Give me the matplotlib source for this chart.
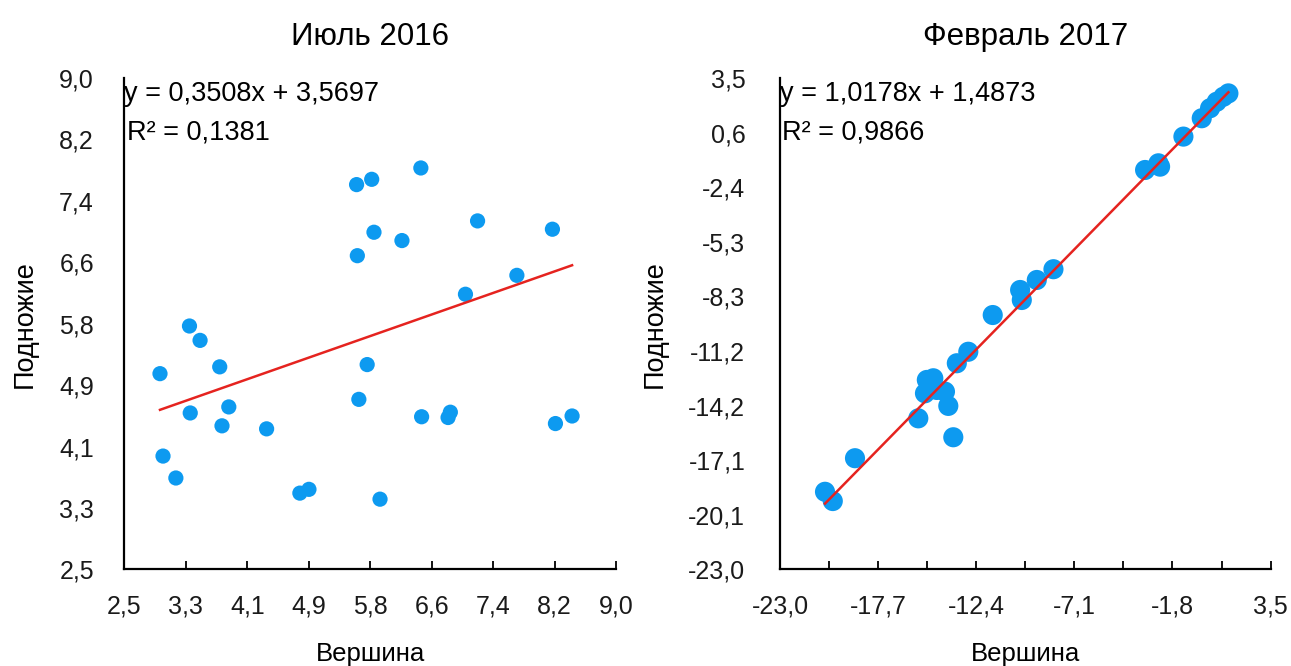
import numpy as np
import matplotlib
matplotlib.use("Agg")
import matplotlib.pyplot as plt

plt.rcParams['font.family'] = ['Liberation Sans', 'DejaVu Sans']

# ---- data: July 2016 ----
jul_x = [5.57, 5.77, 6.42, 5.80, 6.17, 5.58, 7.17, 8.16, 7.69, 7.01,
         3.36, 3.50, 2.97, 3.76, 5.71, 5.60, 3.37, 3.88, 3.79, 4.38,
         6.43, 6.81, 6.78, 8.20, 8.42, 3.01, 3.18, 4.82, 4.94, 5.88]
jul_y = [7.59, 7.66, 7.81, 6.96, 6.85, 6.65, 7.11, 7.00, 6.39, 6.14,
         5.72, 5.53, 5.09, 5.18, 5.21, 4.75, 4.57, 4.65, 4.40, 4.36,
         4.52, 4.58, 4.51, 4.43, 4.53, 4.00, 3.71, 3.51, 3.56, 3.43]
jul_slope, jul_intercept = 0.3508, 3.5697
jul_eq = "y = 0,3508x + 3,5697"
jul_r2 = "R² = 0,1381"
jul_ticks = [2.5, 3.3125, 4.125, 4.9375, 5.75, 6.5625, 7.375, 8.1875, 9.0]
jul_ticklabels = ["2,5", "3,3", "4,1", "4,9", "5,8", "6,6", "7,4", "8,2", "9,0"]

# ---- data: February 2017 ----
feb_x = [1.22, 0.95, 0.59, 0.23, -0.22, -1.21, -2.56, -3.28, -2.47,
         -8.23, -9.13, -10.03, -9.94, -11.51, -12.83, -13.45, -15.07, -14.72,
         -15.17, -14.09, -14.53, -13.91, -15.53, -13.64, -18.95, -20.57, -20.15]
feb_y = [2.67, 2.49, 2.22, 1.87, 1.33, 0.34, -1.10, -1.46, -1.28,
         -6.81, -7.39, -7.93, -8.47, -9.28, -11.26, -11.88, -12.78, -12.69,
         -13.50, -13.41, -13.32, -14.18, -14.85, -15.87, -17.00, -18.81, -19.31]
feb_slope, feb_intercept = 1.0178, 1.4873
feb_eq = "y = 1,0178x + 1,4873"
feb_r2 = "R² = 0,9866"
feb_xticks = [-23.0 + 2.65 * k for k in range(11)]
feb_xticklabels = ["-23,0", "", "-17,7", "", "-12,4", "", "-7,1", "", "-1,8", "", "3,5"]
feb_yticks = [-23.0 + 26.5 / 9 * k for k in range(10)]
feb_yticklabels = ["-23,0", "-20,1", "-17,1", "-14,2", "-11,2", "-8,3", "-5,3", "-2,4", "0,6", "3,5"]

titles = ["Июль 2016", "Февраль 2017"]
xlabel = "Вершина"
ylabel = "Подножие"

dot_color = "#0d9af0"
line_color = "#e5231f"
TICK_FS = 18
EQ_FS = 19.5

fig = plt.figure(figsize=(12.91, 6.66), dpi=100)
ax1 = fig.add_axes([0.0964, 0.1449, 0.3807, 0.738])
ax2 = fig.add_axes([0.6042, 0.1449, 0.3800, 0.738])

def style(ax, xlim, ylim, xt, xtl, yt, ytl, ypad):
    ax.set_xlim(*xlim)
    ax.set_ylim(*ylim)
    for s in ['top', 'right']:
        ax.spines[s].set_visible(False)
    for s in ['left', 'bottom']:
        ax.spines[s].set_linewidth(1.6)
        ax.spines[s].set_color('black')
    ax.set_xticks(xt)
    ax.set_xticklabels(xtl, fontsize=TICK_FS)
    ax.set_yticks(yt)
    ax.set_yticklabels(ytl, fontsize=TICK_FS)
    ax.tick_params(axis='x', direction='in', length=6, width=1.3, pad=18)
    ax.tick_params(axis='y', length=0, pad=ypad)
    ax.set_xlabel(xlabel, fontsize=18.5, labelpad=17)
    ax.set_ylabel(ylabel, fontsize=19.5, labelpad=15)
    for lab in ax.get_xticklabels() + ax.get_yticklabels():
        lab.set_color('#1a1a1a')

# left panel
ax1.scatter(jul_x, jul_y, s=120, color=dot_color, edgecolors='none', zorder=2, clip_on=False)
lx = np.array([min(jul_x), max(jul_x)])
ax1.plot(lx, jul_slope * lx + jul_intercept, color=line_color, lw=1.8, zorder=3)
style(ax1, (2.5, 9.0), (2.5, 9.0), jul_ticks, jul_ticklabels, jul_ticks, jul_ticklabels, 22)
ax1.set_title(titles[0], fontsize=22.5, pad=24)
ax1.text(0.0, 0.968, jul_eq, transform=ax1.transAxes, fontsize=EQ_FS, va='center', ha='left')
ax1.text(0.005, 0.89, jul_r2, transform=ax1.transAxes, fontsize=EQ_FS, va='center', ha='left')

# right panel
ax2.scatter(feb_x, feb_y, s=210, color=dot_color, edgecolors='none', zorder=2, clip_on=False)
rx = np.array([min(feb_x), max(feb_x)])
ax2.plot(rx, feb_slope * rx + feb_intercept, color=line_color, lw=1.8, zorder=3)
style(ax2, (-23.0, 3.5), (-23.0, 3.5), feb_xticks, feb_xticklabels, feb_yticks, feb_yticklabels, 25)
ax2.set_title(titles[1], fontsize=22.5, pad=24)
ax2.text(0.0, 0.968, feb_eq, transform=ax2.transAxes, fontsize=EQ_FS, va='center', ha='left')
ax2.text(0.005, 0.89, feb_r2, transform=ax2.transAxes, fontsize=EQ_FS, va='center', ha='left')

fig.savefig("out.png", dpi=100, facecolor='white')
